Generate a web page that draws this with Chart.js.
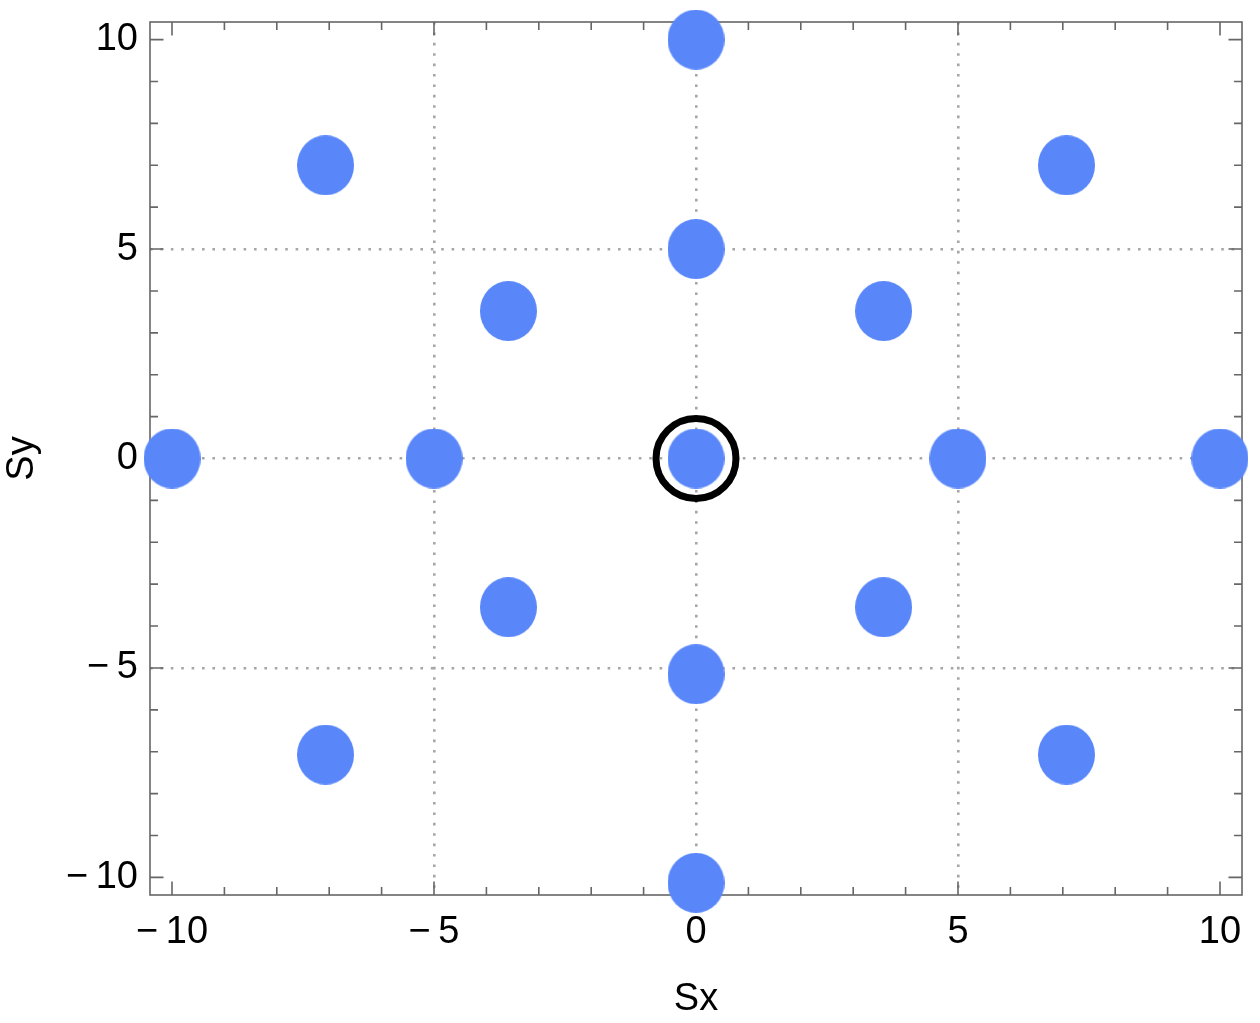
<!DOCTYPE html>
<html><head><meta charset="utf-8">
<script src="https://cdn.jsdelivr.net/npm/chart.js@4"></script>
<style>html,body{margin:0;padding:0;background:#fff}#wrap{width:1260px;height:1023px;position:relative}</style>
</head><body><div id="wrap"><canvas id="c"></canvas></div>
<script>
// ---- data ----
const sxValues = [0, -7.07, 7.07, 0, -3.58, 3.58, -10, -5, 0, 5, 10, -3.58, 3.58, 0, -7.07, 7.07, 0];
const syValues = [10, 7.0, 7.0, 5.0, 3.52, 3.52, 0, 0, 0, 0, 0, -3.55, -3.55, -5.15, -7.07, -7.07, -10.13];
const ringX = [0];
const ringY = [0];
const majorTicks = [-10, -5, 0, 5, 10];
const minorTicks = [-9, -8, -7, -6, -4, -3, -2, -1, 1, 2, 3, 4, 6, 7, 8, 9];
const gridValues = [-5, 0, 5];
const axisMin = -10.42, axisMax = 10.42;
const xTitle = 'Sx', yTitle = 'Sy';

// ---- styles ----
const FONT = 'Liberation Sans, Arial, Helvetica, sans-serif';
const frameColor = '#666666';
const gridColor = '#a6a6a6';
const dotColor = '#5987FA';

function ellipseImg(w, h, color) {
  const c = document.createElement('canvas');
  c.width = w; c.height = h;
  const g = c.getContext('2d');
  g.fillStyle = color;
  g.beginPath();
  g.ellipse(w / 2, h / 2, w / 2, h / 2, 0, 0, Math.PI * 2);
  g.fill();
  return c;
}
const dotImg = ellipseImg(57, 60, dotColor);

const fmt = v => (v < 0 ? '\u2212\u2009' + Math.abs(v) : String(v));

const framePlugin = {
  id: 'frame',
  beforeDatasetsDraw(chart) {
    const { ctx, chartArea: a, scales: { x, y } } = chart;
    ctx.save();
    ctx.strokeStyle = frameColor;
    ctx.lineWidth = 1.6;
    ctx.strokeRect(a.left, a.top, a.right - a.left, a.bottom - a.top);
    ctx.beginPath();
    const add = (v, len) => {
      const px = x.getPixelForValue(v);
      ctx.moveTo(px, a.bottom); ctx.lineTo(px, a.bottom - len);
      ctx.moveTo(px, a.top); ctx.lineTo(px, a.top + len);
      const py = y.getPixelForValue(v);
      ctx.moveTo(a.left, py); ctx.lineTo(a.left + len, py);
      ctx.moveTo(a.right, py); ctx.lineTo(a.right - len, py);
    };
    majorTicks.forEach(v => add(v, 13.5));
    minorTicks.forEach(v => add(v, 8));
    ctx.stroke();
    ctx.restore();
  }
};

function axis(isX) {
  return {
    type: 'linear',
    position: isX ? 'bottom' : 'left',
    min: axisMin, max: axisMax,
    afterBuildTicks: s => { s.ticks = majorTicks.map(v => ({ value: v })); },
    afterFit: s => {
      if (isX) s.height = 128; else s.width = 150;
      s.paddingTop = 0; s.paddingBottom = 0; s.paddingLeft = 0; s.paddingRight = 0;
    },
    ticks: {
      callback: v => fmt(v),
      font: { family: FONT, size: 38 },
      color: '#000',
      padding: isX ? 15 : 12,
      maxRotation: 0, minRotation: 0, autoSkip: false
    },
    grid: {
      color: c => (c.tick && gridValues.includes(c.tick.value)) ? gridColor : 'rgba(0,0,0,0)',
      lineWidth: 2.6,
      drawTicks: false
    },
    border: { display: false, dash: [2.6, 7.8] },
    title: {
      display: true,
      text: isX ? xTitle : yTitle,
      font: { family: FONT, size: 38 },
      color: '#000',
      padding: isX ? { top: 0, bottom: 1 } : { top: 0, bottom: 0 }
    }
  };
}

new Chart(document.getElementById('c'), {
  type: 'scatter',
  data: {
    datasets: [
      {
        label: 'ring',
        data: ringX.map((v, i) => ({ x: v, y: ringY[i] })),
        pointStyle: 'circle',
        pointRadius: 40,
        pointBorderWidth: 7,
        pointBorderColor: '#000',
        pointBackgroundColor: 'rgba(0,0,0,0)'
      },
      {
        label: 'S',
        data: sxValues.map((v, i) => ({ x: v, y: syValues[i] })),
        pointStyle: dotImg,
        pointRadius: 30,
        backgroundColor: dotColor,
        borderColor: dotColor
      }
    ]
  },
  options: {
    responsive: true,
    maintainAspectRatio: false,
    animation: false,
    events: [],
    clip: false,
    layout: { autoPadding: false, padding: { top: 22, right: 18, left: 0, bottom: 0 } },
    plugins: { legend: { display: false }, tooltip: { enabled: false } },
    scales: { x: axis(true), y: axis(false) }
  },
  plugins: [framePlugin]
});
</script>
</body></html>
